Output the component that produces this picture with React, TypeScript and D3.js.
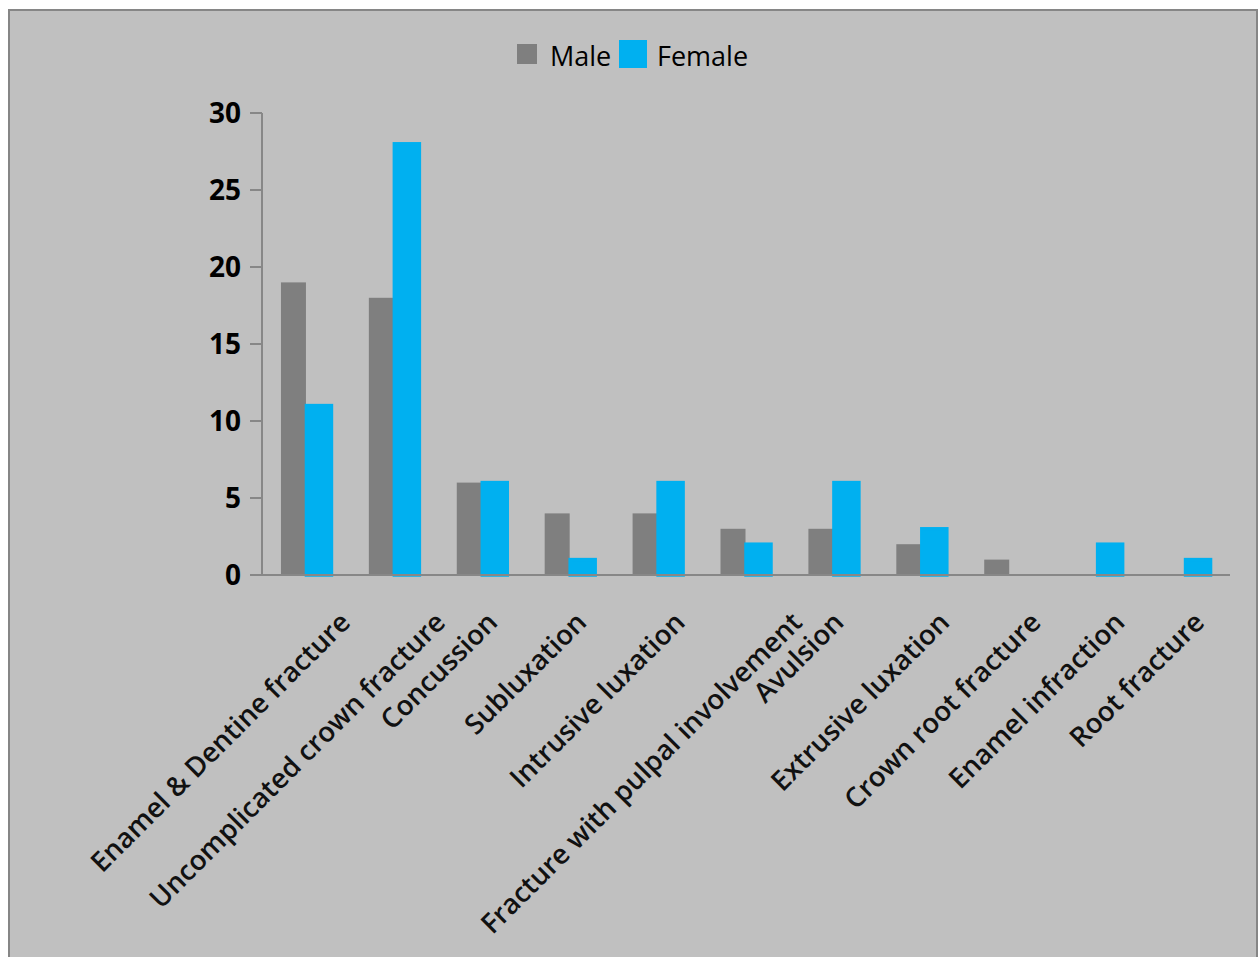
import React, { useEffect, useRef } from "react";
import * as d3 from "d3";

const categories = [
  "Enamel & Dentine fracture",
  "Uncomplicated crown fracture",
  "Concussion",
  "Subluxation",
  "Intrusive luxation",
  "Fracture with pulpal involvement",
  "Avulsion",
  "Extrusive luxation",
  "Crown root fracture",
  "Enamel infraction",
  "Root fracture",
];
const maleValues = [19, 18, 6, 4, 4, 3, 3, 2, 1, 0, 0];
const femaleValues = [11, 28, 6, 1, 6, 2, 6, 3, 0, 2, 1];
const yTicks = [0, 5, 10, 15, 20, 25, 30];
const seriesNames = ["Male", "Female"];

const W = 1259;
const H = 957;
const MALE = "#7f7f7f";
const FEMALE = "#00b0f0";
const AXIS = "#878787";
const FONT = "'Open Sans', sans-serif";

export default function App() {
  const ref = useRef<SVGSVGElement | null>(null);

  useEffect(() => {
    const svg = d3.select(ref.current);
    svg.selectAll("*").remove();

    svg.append("rect").attr("x", 0).attr("y", 0).attr("width", W).attr("height", H).attr("fill", "#ffffff");
    svg
      .append("rect")
      .attr("x", 9)
      .attr("y", 10)
      .attr("width", 1248)
      .attr("height", 960)
      .attr("fill", "#c0c0c0")
      .attr("stroke", "#868686")
      .attr("stroke-width", 2);

    const x = d3.scaleBand<string>().domain(categories).range([262, 1229]);
    const y = d3.scaleLinear().domain([0, 30]).range([575, 113]);
    const bw = 25;
    const cx = (c: string) => (x(c) as number) + x.bandwidth() / 2;

    // bars
    const g = svg.append("g");
    g.selectAll("rect.male")
      .data(categories.map((c, i) => ({ c, v: maleValues[i] })).filter((d) => d.v > 0))
      .enter()
      .append("rect")
      .attr("class", "male")
      .attr("x", (d) => cx(d.c) - bw)
      .attr("width", bw)
      .attr("y", (d) => y(d.v))
      .attr("height", (d) => y(0) - y(d.v))
      .attr("fill", MALE);
    g.selectAll("rect.female")
      .data(categories.map((c, i) => ({ c, v: femaleValues[i] })).filter((d) => d.v > 0))
      .enter()
      .append("rect")
      .attr("class", "female")
      .attr("x", (d) => cx(d.c) + 0.5)
      .attr("width", bw)
      .attr("y", (d) => y(d.v))
      .attr("height", (d) => y(0) - y(d.v))
      .attr("fill", FEMALE)
      .attr("stroke", FEMALE)
      .attr("stroke-width", 3.5);

    // axes
    svg.append("line").attr("x1", 262).attr("x2", 262).attr("y1", y(30)).attr("y2", y(0) + 1).attr("stroke", AXIS).attr("stroke-width", 2);
    svg.append("line").attr("x1", 261).attr("x2", 1230).attr("y1", y(0)).attr("y2", y(0)).attr("stroke", AXIS).attr("stroke-width", 2);
    const yt = svg.append("g");
    yTicks.forEach((t) => {
      yt.append("line").attr("x1", 250).attr("x2", 262).attr("y1", y(t)).attr("y2", y(t)).attr("stroke", AXIS).attr("stroke-width", 2);
      yt.append("text")
        .attr("x", 241)
        .attr("y", y(t))
        .attr("dy", "0.36em")
        .attr("text-anchor", "end")
        .attr("font-family", FONT)
        .attr("font-weight", "bold")
        .attr("font-size", 28)
        .attr("fill", "#000")
        .text(String(t));
    });

    // category labels
    const lg = svg.append("g");
    categories.forEach((c) => {
      const t = lg
        .append("text")
        .attr("text-anchor", "end")
        .attr("font-family", FONT)
        .attr("font-weight", 600)
        .attr("font-size", 27.5)
        .attr("fill", "#111")
        .text(c);
      const L = (t.node() as SVGTextElement).getComputedTextLength();
      const bx = cx(c) + 0.1414 * L - 4;
      const by = 624;
      t.attr("transform", `translate(${bx},${by}) rotate(-45)`);
    });

    // legend
    const leg = svg.append("g");
    leg.append("rect").attr("x", 517).attr("y", 44).attr("width", 20).attr("height", 20).attr("fill", MALE);
    leg.append("text").attr("x", 550).attr("y", 66).attr("font-family", FONT).attr("font-size", 27).attr("fill", "#000").text(seriesNames[0]);
    leg.append("rect").attr("x", 620.5).attr("y", 41.5).attr("width", 25).attr("height", 25).attr("fill", FEMALE).attr("stroke", FEMALE).attr("stroke-width", 3);
    leg.append("text").attr("x", 657).attr("y", 66).attr("font-family", FONT).attr("font-size", 27).attr("fill", "#000").text(seriesNames[1]);
  }, []);

  return (
    <svg
      ref={ref}
      width={W}
      height={H}
      style={{ position: "absolute", left: 0, top: 0, display: "block" }}
    />
  );
}
